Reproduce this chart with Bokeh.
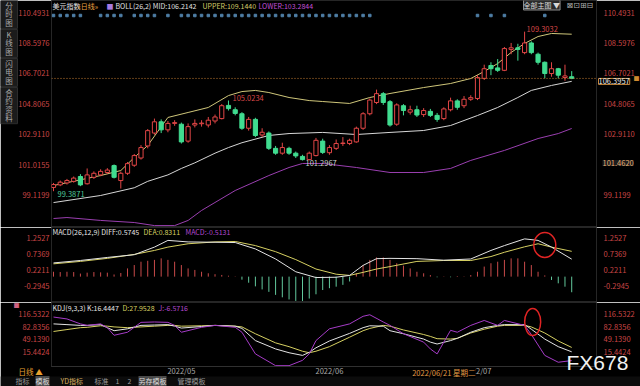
from bokeh.plotting import figure
from bokeh.models import (Range1d, LinearAxis, FixedTicker, NumeralTickFormatter,
                          Label, Span, ColumnDataSource, GridBox)
from bokeh.embed import file_html
from bokeh.resources import INLINE

# ---------------- data ----------------
opens = [99.62, 99.78, 99.90, 100.00, 100.30, 99.85, 100.25, 100.40, 100.55, 100.98,
         100.05, 100.50, 101.00, 101.45, 102.20, 103.00, 103.70, 103.20, 103.60, 103.55,
         102.50, 103.50, 103.58, 103.50, 103.75, 103.90, 104.72, 104.45, 104.20, 103.30,
         103.85, 102.88, 103.00, 102.05, 101.75, 102.05, 101.75, 101.55, 101.35, 101.60,
         102.50, 101.78, 102.05, 102.35, 102.35, 102.45, 103.30, 104.20, 104.90, 105.45,
         104.95, 103.55, 104.70, 104.30, 104.45, 104.15, 104.35, 104.10, 103.90, 104.45,
         105.00, 104.70, 105.10, 105.15, 106.40, 107.20, 107.05, 106.90, 108.20, 108.30,
         108.00, 108.60, 107.90, 107.40, 106.70, 107.00, 106.45, 106.50]
closes = [99.80, 99.95, 100.05, 100.20, 99.78, 100.40, 100.50, 100.62, 100.70, 100.25,
          100.50, 101.10, 101.60, 102.10, 103.15, 103.70, 103.20, 103.60, 103.65, 102.45,
          103.40, 103.60, 103.62, 103.80, 104.00, 104.70, 104.52, 104.22, 103.30, 103.85,
          102.85, 103.05, 102.05, 101.75, 102.10, 101.75, 101.58, 101.35, 101.75, 102.55,
          101.80, 102.10, 102.35, 102.38, 102.55, 103.30, 104.20, 105.05, 105.45, 104.90,
          103.50, 104.75, 104.40, 104.45, 104.12, 104.40, 104.10, 103.85, 104.50, 105.00,
          104.60, 105.10, 105.20, 106.45, 107.00, 107.00, 106.90, 108.25, 108.30, 108.20,
          108.60, 108.00, 107.40, 106.70, 107.00, 106.60, 106.55, 106.3957]
highs = [99.90, 100.05, 100.15, 100.30, 100.45, 100.80, 100.62, 100.75, 100.82, 101.05,
         100.60, 101.20, 101.70, 102.25, 103.25, 103.90, 103.85, 103.75, 103.80, 103.65,
         103.60, 103.85, 103.80, 104.00, 104.15, 104.80, 105.0234, 104.60, 104.30, 104.00,
         103.95, 103.30, 103.10, 102.20, 102.40, 102.15, 101.85, 101.65, 101.85, 102.70,
         102.65, 102.25, 102.60, 102.75, 102.65, 103.40, 104.30, 105.15, 105.70, 105.55,
         105.05, 104.85, 104.80, 104.70, 104.70, 104.55, 104.50, 104.25, 104.60, 105.20,
         105.10, 105.30, 105.35, 106.60, 107.25, 107.40, 107.60, 108.35, 108.60, 108.55,
         109.3032, 108.70, 108.00, 107.45, 107.40, 107.05, 107.25, 106.85]
lows = [99.3871, 99.70, 99.80, 99.92, 99.70, 99.80, 100.15, 100.32, 100.45, 100.18,
        99.55, 100.40, 100.90, 101.35, 102.05, 102.90, 103.00, 103.05, 103.45, 102.35,
        102.40, 103.35, 103.40, 103.35, 103.60, 103.85, 104.40, 104.10, 103.20, 103.15,
        102.75, 102.75, 101.95, 101.65, 101.65, 101.65, 101.45, 101.2967, 101.30, 101.55,
        101.70, 101.65, 101.95, 102.20, 102.25, 102.40, 103.20, 104.10, 104.80, 104.75,
        103.40, 103.45, 104.10, 104.15, 104.00, 104.00, 104.00, 103.70, 103.80, 104.35,
        104.45, 104.55, 105.00, 105.05, 106.30, 106.60, 106.80, 106.85, 107.90, 107.50,
        107.90, 107.90, 107.25, 106.40, 106.50, 106.40, 106.25, 106.35]

upper_i = [0, 7, 10, 12, 14, 17, 20, 23, 26, 28, 30, 32, 35, 38, 40, 44, 47, 50,
           55, 59, 62, 64, 66, 68, 70, 72, 74, 77]
upper_v = [99.74, 100.36, 100.67, 101.48, 102.23, 103.97, 104.28, 104.59, 105.33,
           105.58, 105.65, 105.52, 105.21, 105.02, 104.96, 104.84, 105.21, 105.46,
           105.83, 106.08, 106.39, 106.83, 107.32, 108.01, 108.57, 109.00, 109.19, 109.144]
mid_i = [0, 7, 12, 14, 17, 19, 21, 24, 26, 28, 32, 35, 40, 45, 50, 55, 59, 63, 66,
         69, 71, 74, 77]
mid_v = [98.68, 99.12, 99.60, 100.00, 100.40, 100.80, 101.15, 101.75, 102.10, 102.40,
         102.85, 102.97, 103.04, 102.91, 103.04, 103.16, 103.47, 104.09, 104.59, 105.21,
         105.65, 105.96, 106.2142]
lower_i = [0, 2, 7, 12, 15, 18, 20, 22, 27, 32, 35, 37, 40, 45, 50, 55, 59, 62, 67,
           72, 75, 77]
lower_v = [97.69, 97.75, 97.57, 97.44, 97.25, 97.25, 97.57, 98.19, 99.43, 100.36,
           100.86, 101.11, 101.11, 100.86, 100.55, 100.55, 100.80, 101.30, 101.92,
           102.66, 102.97, 103.2844]

macd_hist = [0.16, 0.15, 0.16, 0.15, 0.10, 0.13, 0.15, 0.14, 0.13, 0.07, 0.12,
             0.27, 0.38, 0.49, 0.52, 0.55, 0.60, 0.55, 0.49, 0.38, 0.27,
             0.22, 0.16, 0.11, 0.08, 0.055, 0.03, 0.01,
             -0.10, -0.20, -0.32, -0.42, -0.50, -0.60, -0.68, -0.75, -0.80, -0.80,
             -0.72, -0.58, -0.44, -0.38, -0.33, -0.27, -0.16,
             0.11, 0.38, 0.55, 0.63, 0.63, 0.55, 0.44, 0.36, 0.27, 0.16, 0.11, 0.05,
             -0.02, 0.01, -0.02, 0.02, 0.01, 0.05,
             0.16, 0.33, 0.44, 0.49, 0.55, 0.60, 0.60, 0.49, 0.38, 0.16, 0.04,
             -0.11, -0.22, -0.33, -0.5131]
macd_i = [0, 4, 8, 12, 15, 17, 20, 24, 27, 30, 33, 36, 39, 42, 44, 46, 48, 50, 54,
          58, 62, 65, 67, 70, 72, 74, 77]
diff_v = [0.45, 0.53, 0.63, 0.72, 0.97, 1.19, 1.14, 1.13, 1.12, 0.91, 0.58, 0.16,
          -0.03, -0.02, 0.04, 0.37, 0.59, 0.60, 0.59, 0.54, 0.58, 0.86, 1.02, 1.24,
          1.19, 0.97, 0.5745]
dea_v = [0.42, 0.50, 0.60, 0.73, 0.86, 0.97, 1.08, 1.14, 1.155, 1.02, 0.82, 0.56,
         0.25, 0.08, 0.04, 0.14, 0.25, 0.33, 0.50, 0.53, 0.53, 0.66, 0.80, 0.98,
         1.08, 0.97, 0.8311]

kdj_i = [0, 2, 4, 5, 7, 8, 9, 11, 13, 15, 17, 18, 19, 22, 24, 27, 28, 30, 33, 35,
         37, 38, 39, 41, 44, 46, 47, 49, 50, 52, 55, 56, 57, 59, 60, 62, 64, 66, 67,
         70, 71, 73, 75, 77]
k_v = [90, 88, 86, 86, 88, 80, 72, 77, 86, 87, 88, 84, 79, 83, 86, 84, 78, 46, 24,
       14, 7, 15, 27, 45, 65, 80, 85, 84, 72, 64, 50, 42, 37, 46, 52, 68, 80, 86, 88,
       88, 76, 50, 30, 16.4447]
d_v = [70, 75, 80, 81, 85, 84, 82, 80, 82, 84, 86, 86, 84, 85, 86, 84, 82, 64, 40,
       30, 18, 14, 18, 30, 55, 72, 78, 86, 84, 74, 62, 57, 51, 50, 52, 66, 76, 84, 86,
       86, 82, 66, 45, 27.9528]
j_v = [108, 103, 90, 86, 90, 80, 60, 68, 94, 95, 94, 86, 68, 81, 86, 81, 68, 11, -20,
       -20, -6, 11, 46, 77, 90, 110, 114, 95, 86, 64, 42, 24, 11, 73, 68, 86, 99, 86,
       99, 86, 62, 7, -11, -6.5716]

price_ticks = [110.4931, 108.5976, 106.7021, 104.8065, 102.9110, 101.0155, 99.1199]
price_ticks_right = [110.4931, 108.5976, 106.7021, 104.8065, 102.9110, 99.1199]
cursor_price = 101.0155
cursor_price_text = "101.4620"
macd_ticks = [1.2527, 0.7369, 0.2211, -0.2945]
kdj_ticks = [116.5322, 82.8356, 49.1390, 15.4424]
month_idx = [17, 39, 61]
month_labels = ["2022/05", "2022/06", "2022/07"]
cursor_idx = 53
cursor_text = "2022/06/21 星期二"
signal_dots = [0, 1, 2, 3, 4, 7, 8, 9, 10, 12, 13, 14, 15, 17] + list(range(19, 48)) + [63, 65, 67, 73]
macd_mark = (73.0, 1.04)
kdj_mark = (71.2, 95.0)
sidebar_tabs = [["分", "时", "图"], ["K", "线", "图"], ["闪", "电", "图"], ["合", "约", "资", "料"]]
toolbar_items = ["指标", "模板", "YD指标", "标准", "1", "2", "另存模板", "管理模板"]

# ---------------- style / geometry ----------------
W, H = 640, 386
FONT = "Noto Sans CJK SC"
BG = "#000000"
UP = "#e24646"
DN = "#40dc90"
AX_RED = "#c94545"
X0, DX = 53.0, 6.73          # px of first candle, px per candle
FL, FR = 51, 596              # frame left / right in px
DATE_SHIFT = 2                # month label is centred 2 candles after month start


def xi(px):
    return (px - X0) / DX


def px_of(i):
    return X0 + DX * i


x_range = Range1d(xi(FL), xi(FR))

H1, H2, H3 = 227, 75, 84
P_TOP, P_BOT = 111.239, 97.131
M_TOP, M_BOT = 1.614, -0.850
K_TOP, K_BOT = 146.28, -22.20
pp = (P_TOP - P_BOT) / H1
mp = (M_TOP - M_BOT) / H2
kp = (K_TOP - K_BOT) / (H3 - 20)


def py1(py):
    return P_TOP - py * pp


def py2(py):
    return M_TOP - (py - H1) * mp


def py3(py):
    return K_TOP - (py - H1 - H2) * kp


def ypx_price(v):
    return (P_TOP - v) / pp


def make_fig(h, y0, y1, bottom=0):
    p = figure(width=W, height=h, x_range=x_range, y_range=Range1d(y0, y1),
               x_axis_location=None, y_axis_location=None, toolbar_location=None,
               output_backend="svg", min_border_left=FL, min_border_right=W - FR,
               min_border_top=0, min_border_bottom=bottom, title=None,
               background_fill_color=BG, border_fill_color=BG,
               outline_line_color="#262626")
    p.grid.visible = False
    return p


def add_axes(p, left_ticks, right_ticks):
    for loc, ticks, so in (("left", left_ticks, 2), ("right", right_ticks, 7)):
        ax = LinearAxis(ticker=FixedTicker(ticks=ticks),
                        formatter=NumeralTickFormatter(format="0.0000"),
                        axis_line_color=None, major_tick_line_color=None,
                        minor_tick_line_color=None, major_tick_in=0, major_tick_out=0,
                        major_label_text_color=AX_RED, major_label_text_font_size="7.5px",
                        major_label_text_font=FONT, major_label_standoff=so)
        p.add_layout(ax, loc)


def put(p, x, y, text, color, size="7px", align="left", baseline="middle",
        bg=None, border=None, font=FONT, x_offset=0, alpha=1.0):
    lab = Label(x=x, y=y, text=text, text_color=color, text_font_size=size,
                text_align=align, text_baseline=baseline, text_font=font,
                x_offset=x_offset, text_alpha=alpha)
    if bg:
        lab.background_fill_color = bg
    if border:
        lab.border_line_color = border
    p.add_layout(lab)
    return lab


# ---------------- main (K-line + BOLL) ----------------
p1 = make_fig(H1, P_BOT, P_TOP)
add_axes(p1, price_ticks, price_ticks_right)

n = len(closes)
idx = list(range(n))
up = [c >= o for o, c in zip(opens, closes)]
src = ColumnDataSource(dict(
    x=idx, h=highs, l=lows,
    top=[max(o, c) for o, c in zip(opens, closes)],
    bottom=[min(o, c) for o, c in zip(opens, closes)],
    color=[UP if u else DN for u in up],
    fill=[BG if u else DN for u in up]))
p1.scatter(signal_dots, [py1(15)] * len(signal_dots), marker="square", size=2.5,
           color="#4f7fa6")
p1.line(upper_i, upper_v, color="#cfc67a", line_width=1)
p1.line(mid_i, mid_v, color="#d6d6d6", line_width=1)
p1.line(lower_i, lower_v, color="#9a3fb0", line_width=1)
p1.segment(x0="x", y0="h", x1="x", y1="l", color="color", line_width=1, source=src)
p1.vbar(x="x", width=0.62, top="top", bottom="bottom", fill_color="fill",
        line_color="color", line_width=1, source=src)
p1.add_layout(Span(location=closes[-1], dimension="width", line_color="#c07a30",
                   line_dash="1 2", line_width=1))

i_hi = max(idx, key=lambda i: highs[i])
i_hi2 = max(range(0, 40), key=lambda i: highs[i])
i_lo = min(idx, key=lambda i: lows[i])
i_lo2 = min(range(26, 50), key=lambda i: lows[i])
put(p1, i_hi, highs[i_hi], f"{highs[i_hi]:.4f}", "#d84848", size="7.5px",
    baseline="bottom", x_offset=2)
put(p1, i_hi2, highs[i_hi2], f"{highs[i_hi2]:.4f}", "#d84848", size="7.5px",
    baseline="bottom", x_offset=4)
put(p1, i_lo2, lows[i_lo2], f"{lows[i_lo2]:.4f}", "#c8d0cc", size="7.5px",
    baseline="top", x_offset=3)
put(p1, i_lo, lows[i_lo], f"{lows[i_lo]:.4f}", "#4fc99a", size="7.5px",
    baseline="top", x_offset=4)

ty = py1(5)
put(p1, xi(52), ty, "美元指数", "#e6e6e6")
put(p1, xi(77), ty, "«日线»", "#e8a040")
put(p1, xi(106), ty, "■", "#a77be0", size="7px")
put(p1, xi(115), ty, f"BOLL(26,2) MID:{mid_v[-1]:.4f}", "#e0e0e0")
put(p1, xi(202), ty, f"UPPER:{upper_v[-1]:.4f}", "#d4cc6a")
put(p1, xi(258), ty, f"LOWER:{lower_v[-1]:.4f}", "#c04fd6")

# ---------------- MACD ----------------
p2 = make_fig(H2, M_BOT, M_TOP)
add_axes(p2, macd_ticks, macd_ticks)
p2.segment(x0=idx, y0=[0] * n, x1=idx, y1=macd_hist, line_width=1,
           color=[("#c84a4a" if v >= 0 else "#62c89c") for v in macd_hist])
p2.line(macd_i, dea_v, color="#d6d062", line_width=1)
p2.line(macd_i, diff_v, color="#e4e4e4", line_width=1)
p2.ellipse(x=[macd_mark[0]], y=[macd_mark[1]], width=22, height=25,
           width_units="screen", height_units="screen", fill_color=None,
           line_color="#e02424", line_width=1.5)
my = py2(231)
put(p2, xi(52), my, f"MACD(26,12,9) DIFF:{diff_v[-1]:.4f}", "#e6e6e6")
put(p2, xi(143), my, f"DEA:{dea_v[-1]:.4f}", "#d6d062")
put(p2, xi(185), my, f"MACD:{macd_hist[-1]:.4f}", "#b448d0")

# ---------------- KDJ ----------------
p3 = make_fig(H3, K_BOT, K_TOP, bottom=20)
add_axes(p3, kdj_ticks, kdj_ticks)
date_ticks = [m + DATE_SHIFT for m in month_idx]
xa = LinearAxis(ticker=FixedTicker(ticks=date_ticks),
                major_label_overrides={t: s for t, s in zip(date_ticks, month_labels)},
                major_label_text_color="#a8a8a8",
                major_label_text_font_size="7.5px", major_label_text_font=FONT,
                major_label_standoff=-2, axis_line_color="#303030",
                major_tick_line_color=None, minor_tick_line_color=None,
                major_tick_in=0, major_tick_out=0)
p3.add_layout(xa, "below")
p3.line(kdj_i, d_v, color="#d6d062", line_width=1)
p3.line(kdj_i, k_v, color="#e4e4e4", line_width=1)
p3.line(kdj_i, j_v, color="#a63cc8", line_width=1)
p3.ellipse(x=[kdj_mark[0]], y=[kdj_mark[1]], width=16, height=27,
           width_units="screen", height_units="screen", fill_color=None,
           line_color="#e02424", line_width=1.5)
ky = py3(307)
put(p3, xi(52), ky, f"KDJ(9,3,3) K:{k_v[-1]:.4f}", "#e6e6e6")
put(p3, xi(122), ky, f"D:{d_v[-1]:.4f}", "#d6d062")
put(p3, xi(158), ky, f"J:{j_v[-1]:.4f}", "#b448d0")

# ---------------- overlay with the window chrome (pixel units) ----------------
ov = figure(width=W, height=H, x_range=Range1d(0, W), y_range=Range1d(H, 0),
            x_axis_location=None, y_axis_location=None, toolbar_location=None,
            output_backend="svg", min_border=0, title=None,
            background_fill_color=None, border_fill_color=None,
            outline_line_color=None)
ov.frame_align = False
ov.grid.visible = False

# sidebar tabs
tab_starts = [0, 29, 58, 87]
tab_tops, tab_bots, char_y = [], [], []
for y0, tab in zip(tab_starts, sidebar_tabs):
    tab_tops.append(y0)
    tab_bots.append(y0 + 8.3 * len(tab) + 3)
    for k, ch in enumerate(tab):
        char_y.append((ch, y0 + 5 + 8.3 * k))
ov.quad(left=0, right=17, top=tab_tops, bottom=tab_bots, fill_color="#1b1b1b",
        line_color="#2c2c2c")
for ch, yy in char_y:
    put(ov, 8.5, yy, ch, "#a8a8a8", size="7.5px", align="center")

# top-right buttons
put(ov, 523, 4.5, "全部主图 ▼", "#d8d8d8", size="7px", bg="#2a2a2a", border="#8a8a8a")
put(ov, 566, 4.5, "⊠⊡⊞⊟", "#b0b0b0", size="8px", font="DejaVu Sans")

# last price box and cursor price on the right scale
put(ov, 598, ypx_price(closes[-1]), f"{closes[-1]:.4f}", "#e8e8e8", size="7.5px",
    baseline="top", bg="#000000", border="#c8883a")
put(ov, 633, ypx_price(closes[-1]), "■", "#d08a30", size="6px")
put(ov, 602, ypx_price(cursor_price) - 2, cursor_price_text, "#e6b074", size="7.5px",
    bg="#1c1c1c")

# KDJ icon, cursor date, period, watermark, toolbar
put(ov, 16, 305, "■", "#d06080", size="6px", align="center")
put(ov, px_of(cursor_idx) + 2, 372, cursor_text, "#e39a44", size="7.5px", bg="#000000")
put(ov, 18, 371, "日线 ▲", "#e8a030", size="7.5px")
put(ov, 566, 362, "FX678", "#f2f2f2", size="21px", font="Liberation Sans")

ov.quad(left=0, right=W, top=376, bottom=H, fill_color="#0c0c0c", line_color=None)
tb_x = [15, 35, 60, 94, 115, 127, 138, 177]
tb_col = ["#9a9a9a", "#dcdcdc", "#d8b060", "#9a9a9a", "#9a9a9a", "#9a9a9a", "#dcdcdc", "#9a9a9a"]
tb_bg = [None, "#4a4a4a", None, None, None, None, "#4a4a4a", None]
for text, x, col, bg in zip(toolbar_items, tb_x, tb_col, tb_bg):
    put(ov, x, 380.5, text, col, size="7px", bg=bg)

layout = GridBox(children=[(p1, 0, 0), (p2, 1, 0), (p3, 2, 0), (ov, 0, 0, 3, 1)],
                 spacing=0)
open("out.html", "w").write(file_html(layout, INLINE))
